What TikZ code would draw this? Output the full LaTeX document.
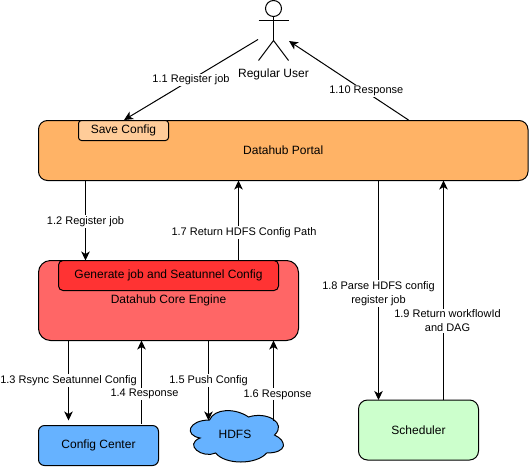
\documentclass[tikz,border=0pt]{standalone}
\usepackage{fontspec}
\setmainfont{Liberation Sans}
\usetikzlibrary{arrows.meta}
\tikzset{
  box/.style={draw=black,line width=1pt,inner sep=0pt,outer sep=0pt,font=\fontsize{12}{14}\selectfont,align=center},
  conn/.style={draw=black,line width=1pt,-{Stealth[length=9pt,width=8.5pt,inset=2.5pt]}},
  lab/.style={fill=white,inner sep=1pt,font=\fontsize{11}{14}\selectfont,align=center},
  actorline/.style={draw=black,line width=1pt},
}
\begin{document}
\begin{tikzpicture}[x=1pt,y=-1pt]
\useasboundingbox (0,0) rectangle (529,466);
% boxes
\node[box,fill={rgb,255:red,255;green,179;blue,102},rounded corners=9pt,minimum width=489.5pt,minimum height=60pt] (portal) at (283.25,150.5) {Datahub Portal};
\node[box,fill={rgb,255:red,255;green,204;blue,153},rounded corners=3pt,minimum width=90pt,minimum height=20pt] (save) at (123.5,130.5) {Save Config};
\node[box,fill={rgb,255:red,255;green,102;blue,102},rounded corners=12pt,minimum width=260pt,minimum height=80pt] (engine) at (168.5,300.5) {Datahub Core Engine};
\node[box,fill={rgb,255:red,255;green,51;blue,51},rounded corners=4.5pt,minimum width=220pt,minimum height=30pt] (gen) at (168.5,275.5) {Generate job and Seatunnel Config};
\node[box,fill={rgb,255:red,102;green,178;blue,255},rounded corners=6pt,minimum width=120pt,minimum height=40pt] (center) at (98.5,445.5) {Config Center};
\node[box,fill={rgb,255:red,204;green,255;blue,204},rounded corners=9pt,minimum width=120pt,minimum height=60pt] (sched) at (418.5,430) {Scheduler};
% cloud
\draw[line width=1pt,fill={rgb,255:red,102;green,178;blue,255}]
  (209.5,420) .. controls (188.7,420) and (183.5,435) .. (200.1,438)
  .. controls (183.5,444.6) and (202.2,459) .. (215.7,453)
  .. controls (225.1,465) and (256.3,465) .. (266.7,453)
  .. controls (287.5,453) and (287.5,441) .. (274.5,435)
  .. controls (287.5,423) and (266.7,411) .. (248.5,417)
  .. controls (235.5,408) and (214.7,408) .. (209.5,420) -- cycle;
\node[inner sep=0pt,font=\fontsize{12}{14}\selectfont] (hdfs) at (235,434.5) {HDFS};
% actor
\coordinate (head) at (273.5,8.5);
\draw[actorline] (head) circle (8pt);
\coordinate (neck) at (273.5,16.5);
\coordinate (hip) at (273.5,40.5);
\coordinate (armL) at (258.5,20.5);
\coordinate (armR) at (288.5,20.5);
\coordinate (legL) at (258.5,60.5);
\coordinate (legR) at (288.5,60.5);
\draw[actorline] (neck) -- (hip);
\draw[actorline] (armL) -- (armR);
\draw[actorline] (legL) -- (hip) -- (legR);
\node[inner sep=0pt,font=\fontsize{12}{14}\selectfont] (userlabel) at (273.5,74.5) {Regular User};
% free ends
\coordinate (a11) at (258,39.5);
\coordinate (b11) at (124,120);
\coordinate (a110) at (408.5,120);
\coordinate (b110) at (289,41);
\foreach \n/\x in {x12/85.5,x17/238.5,x18/378.5,x19/443.5,x13/68.5,x14/141.5,x15/208.5,x16/273.5}
  \coordinate (\n) at (\x,0);
\coordinate (hdfsT) at (208.5,420.5);
\coordinate (hdfsR) at (273.5,421);
% connectors
\draw[conn] (a11) -- node[lab,pos=0.5] (l11) {1.1 Register job} (b11);
\draw[conn] (a110) -- node[lab,pos=0.37,xshift=2pt] (l110) {1.10 Response} (b110);
\draw[conn] (portal.south -| x12) -- node[lab,pos=0.5,yshift=-1pt] (l12) {1.2 Register job} (engine.north -| x12);
\draw[conn] (engine.north -| x17) -- node[lab,pos=0.35,xshift=5.5pt] (l17) {1.7 Return HDFS Config Path} (portal.south -| x17);
\draw[conn,shorten >=5pt] (engine.south -| x13) -- node[lab,pos=0.47] (l13) {1.3 Rsync Seatunnel Config} (center.north -| x13);
\draw[conn,shorten <=2pt] (center.north -| x14) -- node[lab,pos=0.37,xshift=3pt] (l14) {1.4 Response} (engine.south -| x14);
\draw[conn] (engine.south -| x15) -- node[lab,pos=0.5] (l15) {1.5 Push Config} (hdfsT);
\draw[conn] (hdfsR) -- node[lab,pos=0.33,xshift=4pt] (l16) {1.6 Response} (engine.south -| x16);
\draw[conn] (portal.south -| x18) -- node[lab,pos=0.515] (l18) {1.8 Parse HDFS config\\register job} (sched.north -| x18);
\draw[conn] (sched.north -| x19) -- node[lab,pos=0.36,xshift=4pt] (l19) {1.9 Return workflowId\\and DAG} (portal.south -| x19);
\end{tikzpicture}
\end{document}
